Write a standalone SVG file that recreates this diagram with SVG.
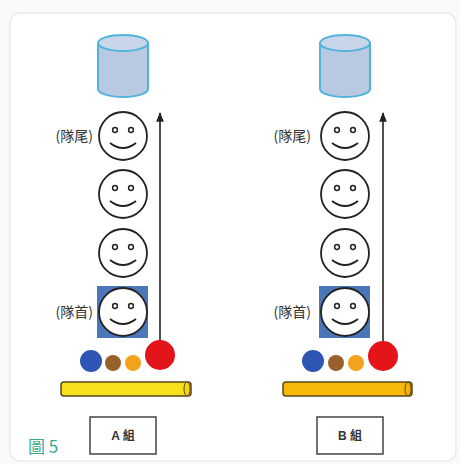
<svg xmlns="http://www.w3.org/2000/svg" width="460" height="464" viewBox="0 0 460 464">
  <defs>
    <marker id="head" viewBox="0 0 10 10" refX="9" refY="5" markerWidth="6" markerHeight="6" orient="auto">
      <path d="M0,1 L10,5 L0,9 Z" fill="#222"/>
    </marker>
    <g id="face">
      <circle cx="0" cy="0" r="24" fill="#fff" stroke="#222" stroke-width="1.8"/>
      <circle cx="-8" cy="-6" r="2.4" fill="none" stroke="#222" stroke-width="1.5"/>
      <circle cx="8" cy="-6" r="2.4" fill="none" stroke="#222" stroke-width="1.5"/>
      <path d="M-13,7 Q0,17 13,7" fill="none" stroke="#222" stroke-width="1.8"/>
    </g>
    <g id="cup">
      <path d="M-25,0 L-25,46 A25,8 0 0 0 25,46 L25,0" fill="#b9c9e1" stroke="#4fb3dd" stroke-width="2"/>
      <ellipse cx="0" cy="0" rx="25" ry="8" fill="#c9d6ea" stroke="#4fb3dd" stroke-width="2"/>
    </g>
  </defs>
  <style>
    .lbl { font-family: "Noto Sans CJK TC", "Noto Sans", sans-serif; font-size: 14px; fill: #333; }
    .grp { font-family: "Liberation Sans", "Noto Sans CJK TC", sans-serif; font-size: 12px; font-weight: bold; fill: #333; }
    .box { fill: #fff; stroke: #444; stroke-width: 1.5; }
    .conn { stroke: #222; stroke-width: 1.6; fill: none; }
  </style>

  <rect width="460" height="464" fill="#fafafa"/>
  <rect x="10" y="13" width="446" height="448" rx="10" fill="#fff" stroke="#eaeaea" stroke-width="1.5"/>

  <!-- column A -->
  <g id="cupA"><use href="#cup" x="123" y="43"/></g>
  <g id="tailA">
    <use href="#face" x="123" y="136"/>
    <text class="lbl" x="93" y="141" text-anchor="end">(隊尾)</text>
  </g>
  <g id="midA1"><use href="#face" x="123" y="194"/></g>
  <g id="midA2"><use href="#face" x="123" y="253"/></g>
  <g id="headA">
    <rect x="97" y="286" width="51" height="52" fill="#4b77b8"/>
    <use href="#face" x="123" y="312"/>
    <text class="lbl" x="93" y="317" text-anchor="end">(隊首)</text>
  </g>
  <g id="ballsA">
    <circle cx="91" cy="361" r="11" fill="#2e54b4"/>
    <circle cx="113" cy="363" r="8" fill="#98602a"/>
    <circle cx="133" cy="363" r="8" fill="#f3a21c"/>
  </g>
  <g id="barA">
    <rect x="61" y="382" width="130" height="14" rx="3" fill="#f7e11a" stroke="#5a4a1a" stroke-width="1.5"/>
    <ellipse cx="187" cy="389" rx="3" ry="7" fill="#f3d41a" stroke="#5a4a1a" stroke-width="1"/>
  </g>
  <g id="boxA">
    <rect class="box" x="90" y="417" width="66" height="37"/>
    <text class="grp" x="123" y="440" text-anchor="middle">A 組</text>
  </g>

  <!-- column B -->
  <g id="cupB"><use href="#cup" x="345" y="43"/></g>
  <g id="tailB">
    <use href="#face" x="345" y="136"/>
    <text class="lbl" x="311" y="141" text-anchor="end">(隊尾)</text>
  </g>
  <g id="midB1"><use href="#face" x="345" y="194"/></g>
  <g id="midB2"><use href="#face" x="345" y="253"/></g>
  <g id="headB">
    <rect x="319" y="286" width="51" height="52" fill="#4b77b8"/>
    <use href="#face" x="345" y="312"/>
    <text class="lbl" x="311" y="317" text-anchor="end">(隊首)</text>
  </g>
  <g id="ballsB">
    <circle cx="313" cy="361" r="11" fill="#2e54b4"/>
    <circle cx="336" cy="363" r="8" fill="#98602a"/>
    <circle cx="356" cy="363" r="8" fill="#f3a21c"/>
  </g>
  <g id="barB">
    <rect x="283" y="382" width="129" height="14" rx="3" fill="#f6b90a" stroke="#5a4a1a" stroke-width="1.5"/>
    <ellipse cx="408" cy="389" rx="3" ry="7" fill="#f3b10a" stroke="#5a4a1a" stroke-width="1"/>
  </g>
  <g id="boxB">
    <rect class="box" x="317" y="417" width="66" height="37"/>
    <text class="grp" x="350" y="440" text-anchor="middle">B 組</text>
  </g>

  <!-- connectors -->
  <g id="connectors">
    <line class="conn" x1="160" y1="345" x2="160" y2="113" marker-end="url(#head)"/>
    <line class="conn" x1="383" y1="345" x2="383" y2="113" marker-end="url(#head)"/>
  </g>

  <!-- pointer balls drawn over the line ends -->
  <g id="pointerA"><circle cx="160" cy="355" r="15" fill="#e4141b"/></g>
  <g id="pointerB"><circle cx="383" cy="356" r="15" fill="#e4141b"/></g>

  <text x="28" y="453" font-family="Noto Sans CJK TC, serif" font-size="17" fill="#3aa88c">圖 5</text>
</svg>
